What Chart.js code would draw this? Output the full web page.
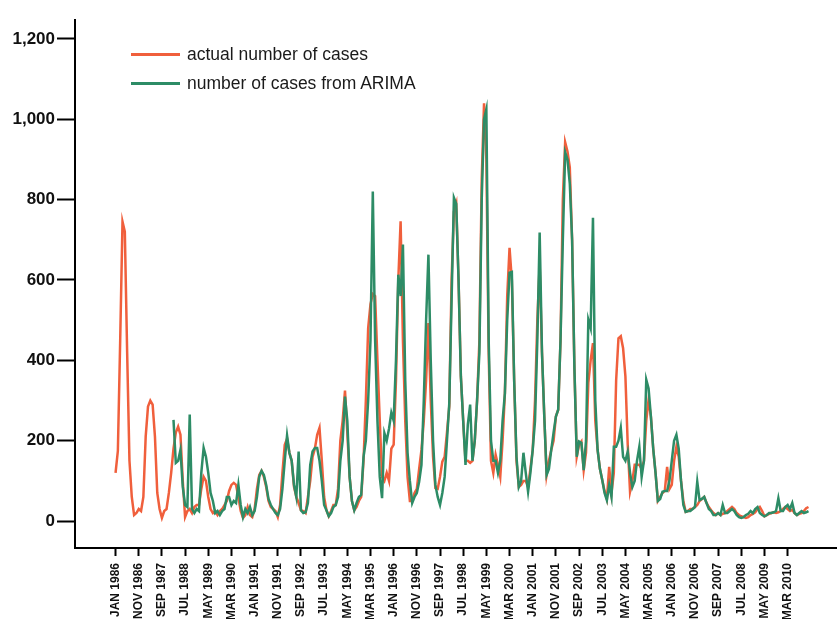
<!DOCTYPE html>
<html>
<head>
<meta charset="utf-8">
<title>Actual vs ARIMA</title>
<script src="https://cdn.jsdelivr.net/npm/chart.js@4.4.1/dist/chart.umd.min.js"></script>
<style>
    html, body { margin: 0; padding: 0; background: #fff; }
    #wrap { position: relative; width: 837px; height: 619px; overflow: hidden; }
    #chart { display: block; }
    .legend { position: absolute; left: 131px; top: 40px; font-family: "Liberation Sans", Arial, sans-serif; font-size: 17.5px; color: #1a1a1a; }
    .legend-row { display: flex; align-items: center; height: 29px; }
    .legend-line { width: 49px; height: 3px; margin-right: 7px; }
</style>
</head>
<body>
<div id="wrap">
    <canvas id="chart" width="837" height="619"></canvas>
    <div class="legend">
        <div class="legend-row"><span class="legend-line" style="background:#f05f3c"></span>actual number of cases</div>
        <div class="legend-row"><span class="legend-line" style="background:#2d8c66"></span>number of cases from ARIMA</div>
    </div>
</div>
<script>
// Monthly series, JAN 1986 .. DEC 2010 (one row per year)
const actualCases = [
    120, 175, 450, 745, 720, 420, 150, 60, 15, 20, 30, 25,
    60, 210, 285, 300, 290, 210, 70, 30, 8, 25, 30, 70,
    120, 180, 220, 235, 215, 100, 10, 25, 30, 20, 35, 40,
    40, 80, 110, 100, 60, 30, 20, 25, 15, 25, 30, 40,
    50, 75, 90, 95, 90, 60, 25, 8, 15, 35, 15, 10,
    30, 80, 115, 125, 110, 85, 50, 35, 30, 25, 10, 40,
    120, 190, 205, 170, 150, 85, 60, 45, 27, 25, 20, 60,
    100, 160, 180, 215, 232, 150, 60, 27, 12, 25, 40, 40,
    80, 200, 250, 325, 220, 110, 50, 27, 35, 50, 60, 150,
    300, 480, 540, 565, 560, 400, 250, 110, 100, 120, 100, 180,
    190, 350, 600, 746, 450, 250, 110, 50, 50, 70, 80, 130,
    177, 250, 350, 493, 300, 160, 82, 80, 110, 148, 160, 220,
    285, 600, 770, 790, 600, 360, 250, 150, 150, 145, 150, 200,
    300, 450, 850, 1040, 900, 420, 150, 120, 165, 140, 110, 200,
    318, 560, 680, 600, 350, 150, 85, 90, 100, 100, 85, 130,
    177, 300, 500, 638, 420, 260, 115, 150, 177, 200, 260, 277,
    450, 800, 943, 920, 880, 700, 380, 160, 190, 198, 127, 170,
    344, 400, 443, 250, 177, 130, 102, 75, 55, 135, 70, 120,
    350, 455, 460, 430, 360, 190, 73, 100, 140, 140, 140, 130,
    150, 250, 302, 260, 180, 120, 50, 60, 70, 75, 135, 80,
    90, 150, 185, 160, 100, 50, 23, 25, 30, 30, 35, 40,
    50, 55, 60, 45, 35, 27, 20, 15, 20, 15, 18, 20,
    25, 30, 35, 30, 20, 15, 12, 10, 8, 10, 15, 18,
    22, 30, 35, 25, 12, 15, 18, 20, 22, 20, 22, 25,
    30, 35, 30, 25, 28, 20, 15, 18, 20, 25, 32, 35
];

const arimaCases = [
    null, null, null, null, null, null, null, null, null, null, null, null,
    null, null, null, null, null, null, null, null, null, null, null, null,
    null, 252, 145, 150, 177, 85, 40, 35, 265, 30, 20, 30,
    25, 120, 182, 160, 120, 70, 50, 20, 25, 15, 25, 30,
    60, 60, 40, 50, 45, 90, 40, 10, 30, 20, 35, 15,
    25, 60, 110, 125, 115, 90, 55, 40, 30, 20, 15, 30,
    80, 150, 213, 170, 150, 90, 60, 173, 27, 20, 22, 45,
    140, 173, 182, 182, 150, 100, 40, 27, 12, 20, 35, 40,
    60, 150, 200, 310, 250, 110, 50, 27, 45, 60, 65, 160,
    200, 300, 450, 820, 450, 250, 110, 57, 219, 200, 230, 270,
    250, 400, 613, 560, 688, 350, 170, 100, 45, 60, 70, 98,
    140, 300, 500, 663, 400, 200, 90, 60, 40, 70, 110, 200,
    293, 550, 805, 790, 600, 360, 250, 140, 240, 290, 150, 200,
    300, 420, 800, 1000, 1025, 450, 200, 150, 150, 120, 150, 250,
    318, 500, 618, 620, 350, 160, 85, 100, 170, 120, 73, 120,
    177, 250, 450, 718, 420, 260, 115, 130, 177, 220, 260, 277,
    450, 700, 918, 900, 840, 700, 380, 160, 198, 195, 127, 200,
    501, 480, 755, 300, 177, 130, 102, 70, 52, 90, 60, 185,
    185, 200, 232, 160, 150, 173, 120, 85, 100, 150, 185, 110,
    150, 352, 330, 260, 180, 120, 50, 55, 73, 75, 75, 100,
    150, 200, 215, 180, 100, 40, 23, 25, 25, 30, 35, 98,
    52, 55, 60, 45, 30, 25, 15, 15, 20, 15, 40, 20,
    20, 25, 30, 25, 15, 10, 8, 10, 15, 18, 25, 20,
    30, 35, 20, 15, 12, 15, 20, 20, 22, 25, 57, 25,
    25, 35, 40, 30, 45, 20, 15, 20, 25, 20, 22, 25
];

// one label every 10 months, starting JAN 1986
const tickLabels = [
    'JAN 1986', 'NOV 1986', 'SEP 1987', 'JUL 1988', 'MAY 1989', 'MAR 1990',
    'JAN 1991', 'NOV 1991', 'SEP 1992', 'JUL 1993', 'MAY 1994', 'MAR 1995',
    'JAN 1996', 'NOV 1996', 'SEP 1997', 'JUL 1998', 'MAY 1999', 'MAR 2000',
    'JAN 2001', 'NOV 2001', 'SEP 2002', 'JUL 2003', 'MAY 2004', 'MAR 2005',
    'JAN 2006', 'NOV 2006', 'SEP 2007', 'JUL 2008', 'MAY 2009', 'MAR 2010'
];
const monthsPerLabel = 10;
const yTickValues = [0, 200, 400, 600, 800, 1000, 1200];

const toPoints = (arr) => arr.map((v, i) => ({ x: i, y: v }));

const ctx = document.getElementById('chart');
new Chart(ctx, {
    type: 'line',
    data: {
        datasets: [
            {
                label: 'actual number of cases',
                data: toPoints(actualCases),
                borderColor: '#f05f3c',
                borderWidth: 2.5,
                pointRadius: 0,
                tension: 0,
                order: 1
            },
            {
                label: 'number of cases from ARIMA',
                data: toPoints(arimaCases),
                borderColor: '#2d8c66',
                borderWidth: 2.5,
                pointRadius: 0,
                tension: 0,
                order: 0
            }
        ]
    },
    options: {
        responsive: false,
        animation: false,
        devicePixelRatio: 1,
        layout: { padding: { top: 20, right: 0, left: 0, bottom: 0 } },
        plugins: {
            legend: { display: false },
            tooltip: { enabled: false }
        },
        scales: {
            x: {
                type: 'linear',
                min: -17.5,
                max: 311.3,
                afterBuildTicks: (axis) => {
                    axis.ticks = tickLabels.map((_, i) => ({ value: i * monthsPerLabel }));
                },
                afterFit: (axis) => { axis.height = 71; },
                ticks: {
                    autoSkip: false,
                    minRotation: 90,
                    maxRotation: 90,
                    padding: 7,
                    color: '#111',
                    font: { family: '"Liberation Sans", Arial, sans-serif', size: 12, weight: 'bold' },
                    callback: (value, index) => tickLabels[index]
                },
                grid: {
                    drawOnChartArea: false,
                    drawTicks: true,
                    tickLength: 8,
                    tickWidth: 2,
                    tickColor: '#000'
                },
                border: { color: '#000', width: 2 }
            },
            y: {
                type: 'linear',
                min: -67,
                max: 1247,
                afterBuildTicks: (axis) => {
                    axis.ticks = yTickValues.map(v => ({ value: v }));
                },
                afterFit: (axis) => { axis.width = 75; },
                ticks: {
                    padding: 2,
                    color: '#111',
                    font: { family: '"Liberation Sans", Arial, sans-serif', size: 17, weight: 'bold' },
                    callback: (value) => value.toLocaleString('en-US')
                },
                grid: {
                    drawOnChartArea: false,
                    drawTicks: true,
                    tickLength: 18,
                    tickWidth: 2,
                    tickColor: '#000'
                },
                border: { color: '#000', width: 2 }
            }
        }
    }
});
</script>
</body>
</html>
